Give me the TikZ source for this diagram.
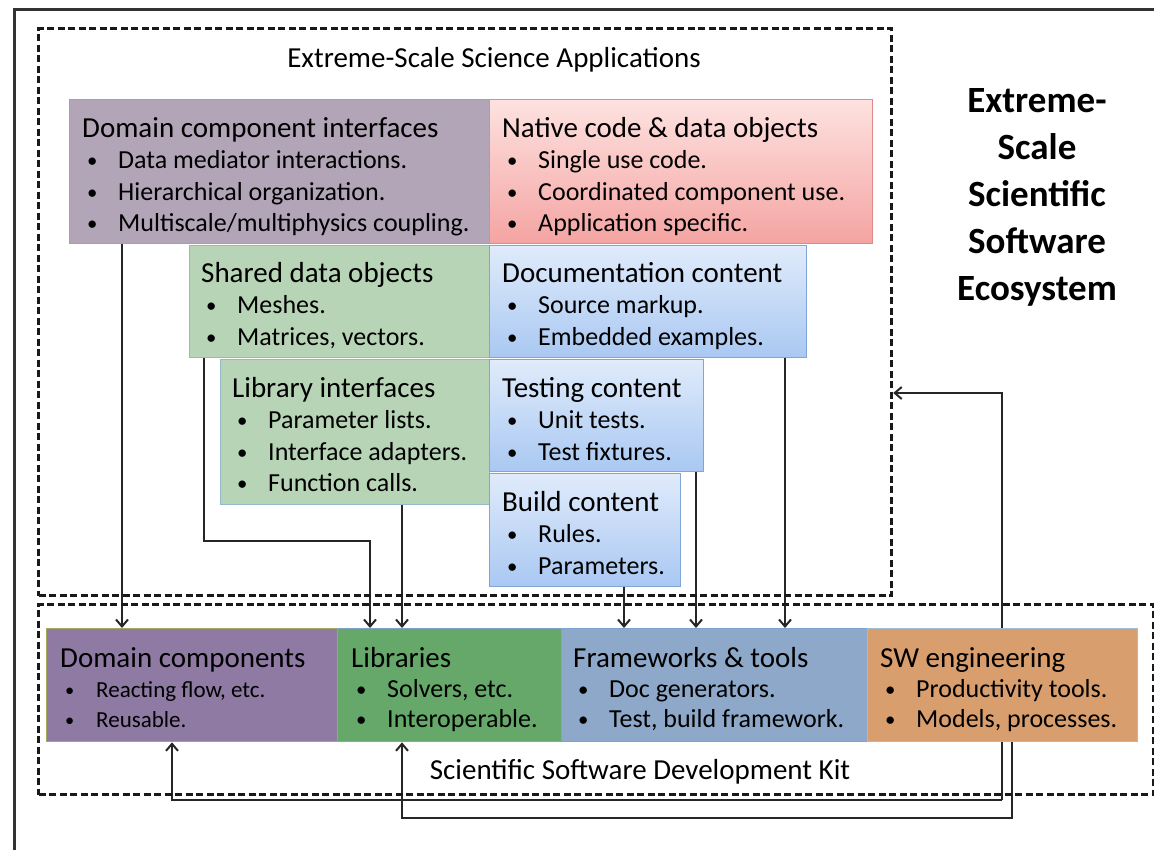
\documentclass[tikz,border=0pt]{standalone}
\usepackage{fontspec}
\setmainfont{Carlito}
\usetikzlibrary{arrows.meta,backgrounds}
\definecolor{dciF}{HTML}{B2A5B8}
\definecolor{redB}{HTML}{DE8A88}
\definecolor{pinkT}{HTML}{FDE2E0}
\definecolor{pinkB}{HTML}{F4A4A2}
\definecolor{greenL}{HTML}{B7D5B6}
\definecolor{greenB}{HTML}{94B9C9}
\definecolor{blueT}{HTML}{E0EBFB}
\definecolor{blueBt}{HTML}{A9C8F2}
\definecolor{blueB}{HTML}{7FA6D6}
\definecolor{dcF}{HTML}{8E7AA3}
\definecolor{dcB}{HTML}{A5A95C}
\definecolor{libF}{HTML}{66A86A}
\definecolor{libB}{HTML}{7FA4C6}
\definecolor{fwF}{HTML}{8DA8C8}
\definecolor{fwB}{HTML}{7EA3D0}
\definecolor{swF}{HTML}{D89E6E}
\definecolor{swB}{HTML}{A2BCD6}
\newcommand\bi{\hspace*{5pt}\makebox[31pt][l]{\raisebox{1pt}{\scalebox{0.8}{•}}}}
\newcommand\ttl[1]{{\fontsize{29}{31.5}\selectfont\rule{0pt}{24pt}#1}}
\begin{document}
\begin{tikzpicture}[x=1pt,y=-1pt,
  box/.style={rectangle,draw,line width=1.3pt,inner sep=0,anchor=north west},
  dbox/.style={rectangle,draw=black!90,line width=3.2pt,dash pattern=on 7pt off 3.5pt,inner sep=0,anchor=north west},
  txt/.style={anchor=north west,inner sep=0,align=left,font=\fontsize{26}{31.5}\selectfont},
  txtb/.style={anchor=north west,inner sep=0,align=left,font=\fontsize{26}{30}\selectfont},
  arr/.style={line width=2pt,draw=black!85,-{Straight Barb[length=7pt,width=12pt,line width=2pt]}}]
\useasboundingbox (0,0) rectangle (1154,850);
% outer frame
\draw[line width=3pt,draw=black!80] (14,880) -- (14,10) -- (1180,10);
% dashed containers
\node[dbox,minimum width=853pt,minimum height=567pt] (apps) at (37,27) {};
\node[dbox,minimum width=1115pt,minimum height=190pt] (sdk) at (37,603) {};
\node[anchor=base,inner sep=0,font=\fontsize{29}{31.5}\selectfont] (appsT) at (494,68) {Extreme-Scale Science Applications};
\node[anchor=base,inner sep=0,font=\fontsize{29}{31.5}\selectfont] (sdkT) at (640,779) {Scientific Software Development Kit};
\node[anchor=base,inner sep=0,align=center,font=\fontsize{37}{47}\selectfont\bfseries] (eco) at (1037,301) {Extreme-\\Scale\\Scientific\\Software\\Ecosystem};
% top boxes
\node[box,fill=dciF,draw=redB,minimum width=420pt,minimum height=144pt] (dci) at (69,99) {};
\node[box,top color=pinkT,bottom color=pinkB,draw=redB,minimum width=383pt,minimum height=144pt] (ncd) at (489,99) {};
\node[box,fill=greenL,draw=greenB,minimum width=300pt,minimum height=112pt] (sdo) at (189,245) {};
\node[box,top color=blueT,bottom color=blueBt,draw=blueB,minimum width=317pt,minimum height=112pt] (doc) at (489,245) {};
\node[box,fill=greenL,draw=greenB,minimum width=269pt,minimum height=145pt] (lib) at (220,359) {};
\node[box,top color=blueT,bottom color=blueBt,draw=blueB,minimum width=214pt,minimum height=112pt] (test) at (489,359) {};
\node[box,top color=blueT,bottom color=blueBt,draw=blueB,minimum width=191pt,minimum height=113pt] (build) at (489,473) {};
\node[txt] (dciT) at (82,113) {\ttl{Domain component interfaces}\\ \bi Data mediator interactions.\\ \bi Hierarchical organization.\\ \bi Multiscale/multiphysics coupling.};
\node[txt] (ncdT) at (502,113) {\ttl{Native code \& data objects}\\ \bi Single use code.\\ \bi Coordinated component use.\\ \bi Application specific.};
\node[txt] (sdoT) at (201,258) {\ttl{Shared data objects}\\ \bi Meshes.\\ \bi Matrices, vectors.};
\node[txt] (docT) at (502,258) {\ttl{Documentation content}\\ \bi Source markup.\\ \bi Embedded examples.};
\node[txt] (libT) at (232,373) {\ttl{Library interfaces}\\ \bi Parameter lists.\\ \bi Interface adapters.\\ \bi Function calls.};
\node[txt] (testT) at (502,373) {\ttl{Testing content}\\ \bi Unit tests.\\ \bi Test fixtures.};
\node[txt] (buildT) at (502,487) {\ttl{Build content}\\ \bi Rules.\\ \bi Parameters.};
% bottom boxes
\node[box,fill=dcF,draw=dcB,minimum width=291pt,minimum height=113pt] (dcomp) at (46,628) {};
\node[box,fill=libF,draw=libB,minimum width=224pt,minimum height=113pt] (libs) at (337,628) {};
\node[box,fill=fwF,draw=fwB,minimum width=306pt,minimum height=113pt] (fw) at (561,628) {};
\node[box,fill=swF,draw=swB,minimum width=270pt,minimum height=113pt] (swe) at (867,628) {};
\node[txtb] (dcompT) at (60,643) {\ttl{Domain components}\\ {\fontsize{23}{30}\selectfont\bi Reacting flow, etc.}\\ {\fontsize{23}{30}\selectfont\bi Reusable.}};
\node[txtb] (libsT) at (351,643) {\ttl{Libraries}\\ \bi Solvers, etc.\\ \bi Interoperable.};
\node[txtb] (fwT) at (573,643) {\ttl{Frameworks \& tools}\\ \bi Doc generators.\\ \bi Test, build framework.};
\node[txtb] (sweT) at (880,643) {\ttl{SW engineering}\\ \bi Productivity tools.\\ \bi Models, processes.};
% connectors
\coordinate (c1) at (122,0);
\coordinate (k2a) at (204,541);
\coordinate (k2b) at (370,541);
\coordinate (c3) at (402,0);
\coordinate (c4) at (624,0);
\coordinate (c5) at (696,0);
\coordinate (c6) at (785,0);
\coordinate (f1) at (1002,393);
\coordinate (f2) at (1002,800);
\coordinate (f3) at (172,800);
\coordinate (g1) at (1012,818);
\coordinate (g2) at (402,818);
\begin{scope}[on background layer]
\draw[arr] (dci.south -| c1) -- (dcomp.north -| c1);
\draw[arr] (sdo.south -| k2a) -- (k2a) -- (k2b) -- (libs.north -| k2b);
\draw[arr] (lib.south -| c3) -- (libs.north -| c3);
\draw[arr] (build.south -| c4) -- (fw.north -| c4);
\draw[arr] (test.south -| c5) -- (fw.north -| c5);
\draw[arr] (doc.south -| c6) -- (fw.north -| c6);
\draw[arr] (f2) -- (f1) -- (apps.east |- f1);
\draw[arr] (f2) -- (f3) -- (dcomp.south -| f3);
\draw[arr] (swe.south -| g1) -- (g1) -- (g2) -- (libs.south -| g2);
\end{scope}
\end{tikzpicture}
\end{document}
